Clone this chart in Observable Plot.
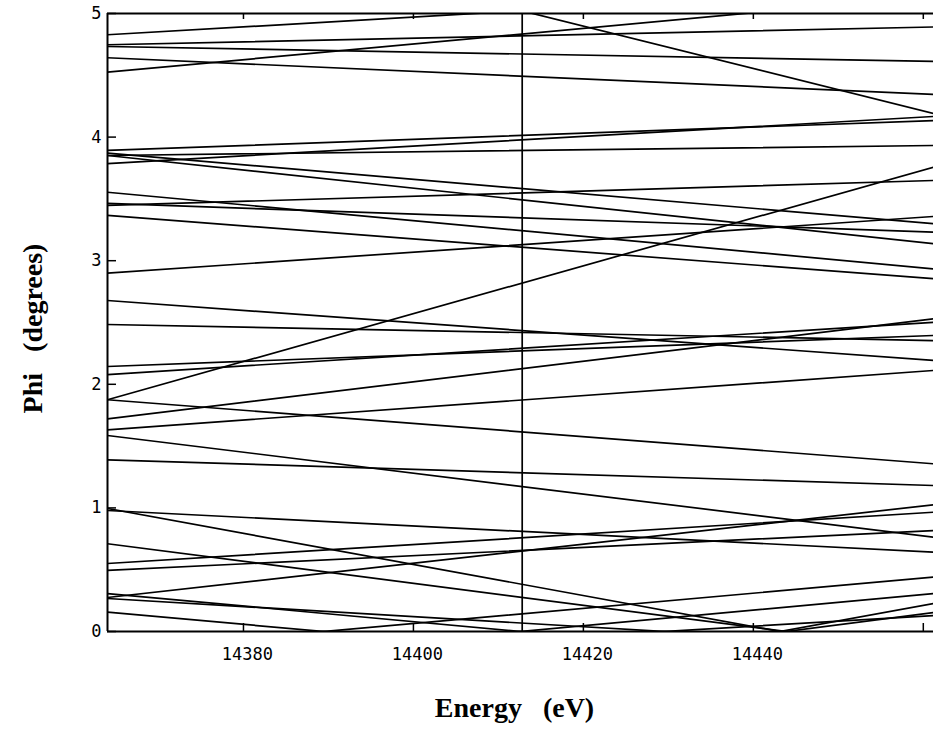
<!DOCTYPE html>
<html><head><meta charset="utf-8">
<script src="https://cdn.jsdelivr.net/npm/d3@7"></script>
<script src="https://cdn.jsdelivr.net/npm/@observablehq/plot@0.6"></script>
<style>body{margin:0;background:#fff}</style>
</head><body><div id="chart"></div>
<script>
// Energy span of the scan (eV) and phi (degrees) of each line at both ends
const energyRange = [14364, 14461.2];
const phiStart = [4.828, 4.747, 4.733, 4.642, 4.525, 5.858, 3.786, 3.892, 3.851, 3.870,
                  3.851, 3.447, 3.554, 3.463, 3.366, 2.899, 1.875, 2.678, 2.484, 2.144,
                  2.079, 1.721, 1.632, 1.875, 1.586, 1.389, 0.995, -0.995, 0.979, 0.710,
                  -0.710, 0.275, 0.550, 0.494, 0.307, -0.307, 0.156, -0.156, 0.267, -0.267];
const phiEnd   = [5.215, 4.891, 4.612, 4.345, 5.141, 4.191, 4.167, 4.134, 3.932, 3.299,
                  3.137, 3.649, 2.934, 3.231, 2.854, 3.358, 3.756, 2.193, 2.354, 2.395,
                  2.502, 2.530, 2.112, 1.357, 0.763, 1.181, -0.227, 0.227, 0.642, -0.154,
                  0.154, 1.025, 0.965, 0.817, -0.307, 0.307, -0.440, 0.440, -0.129, 0.129];
const markerEnergy = [14412.8];
const energyTicks = [14380, 14400, 14420, 14440, 14460];
const energyTickLabels = [14380, 14400, 14420, 14440];
const phiTicks = [0, 1, 2, 3, 4, 5];

const W = 935, H = 729, mL = 107, mR = 2, mT = 13, mB = 98;
const evPerPx = (energyRange[1] - energyRange[0]) / (W - mL - mR);
const phiPerPx = 5 / (H - mT - mB);

const segments = phiStart.flatMap((p, i) => [
  {E: energyRange[0], phi: p, id: i},
  {E: energyRange[1], phi: phiEnd[i], id: i}
]);

const tickFont = "DejaVu Sans Mono, monospace";
const titleFont = "Liberation Serif, Times New Roman, serif";

const chart = Plot.plot({
  width: W, height: H,
  marginLeft: mL, marginRight: mR, marginTop: mT, marginBottom: mB,
  x: {domain: energyRange},
  y: {domain: [0, 5]},
  style: {background: "white"},
  marks: [
    Plot.line(segments, {x: "E", y: "phi", z: "id", stroke: "black", strokeWidth: 1.7, clip: true}),
    Plot.ruleX(markerEnergy, {stroke: "black", strokeWidth: 1.7}),
    // frame (left, bottom, top)
    Plot.ruleX([energyRange[0]], {stroke: "black", strokeWidth: 2}),
    Plot.ruleY([0, 5], {stroke: "black", strokeWidth: 2}),
    // inward ticks
    Plot.ruleY(phiTicks, {y: d => d, x1: energyRange[0], x2: energyRange[0] + 9 * evPerPx, stroke: "black", strokeWidth: 1.5}),
    Plot.ruleX(energyTicks, {x: d => d, y1: 0, y2: 8 * phiPerPx, stroke: "black", strokeWidth: 1.5}),
    Plot.ruleX(energyTicks, {x: d => d, y1: 5 - 6 * phiPerPx, y2: 5, stroke: "black", strokeWidth: 1.5}),
    Plot.axisX(energyTickLabels, {tickSize: 0, tickPadding: 16, fontSize: 17, fontFamily: tickFont, dx: 4, label: null, tickFormat: d => String(d)}),
    Plot.axisY(phiTicks, {tickSize: 0, tickPadding: 6, fontSize: 17, fontFamily: tickFont, label: null, tickFormat: d => String(d)}),
    Plot.text(["Energy\u00a0\u00a0\u00a0(eV)"], {frameAnchor: "bottom", dx: -6, dy: 85, fontSize: 28, fontWeight: "bold", fontFamily: titleFont, fill: "black"}),
    Plot.text(["Phi\u00a0\u00a0\u00a0(degrees)"], {frameAnchor: "left", textAnchor: "middle", rotate: -90, dx: -74, dy: 6, fontSize: 28, fontWeight: "bold", fontFamily: titleFont, fill: "black"})
  ]
});
document.getElementById("chart").append(chart);
</script>
</body></html>
